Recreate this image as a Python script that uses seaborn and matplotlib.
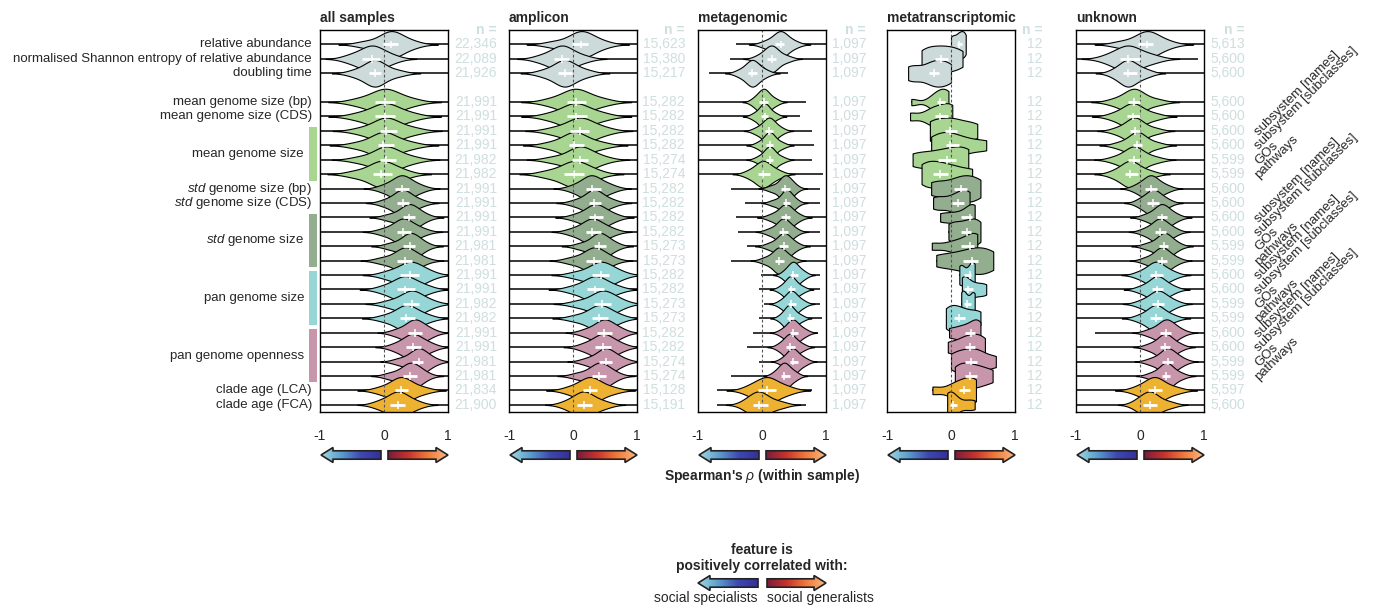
import numpy as np
import pandas as pd
import matplotlib
matplotlib.use("Agg")
import matplotlib.pyplot as plt
import seaborn as sns
from matplotlib.patches import Polygon, Rectangle
from matplotlib.colors import LinearSegmentedColormap

sns.set_style("white")
plt.rcParams["font.family"] = ["Liberation Sans", "DejaVu Sans"]
plt.rcParams["mathtext.fontset"] = "custom"
plt.rcParams["mathtext.rm"] = "Liberation Sans"
plt.rcParams["mathtext.it"] = "Liberation Sans:italic"
plt.rcParams["mathtext.bf"] = "Liberation Sans:bold"

# ---------------- data ----------------
panel_titles = ["all samples", "amplicon", "metagenomic", "metatranscriptomic", "unknown"]

row_keys = ["rel", "shannon", "doubling", "gap",
            "mean_bp", "mean_cds", "mean_names", "mean_subcl", "mean_gos", "mean_path",
            "std_bp", "std_cds", "std_names", "std_subcl", "std_gos", "std_path",
            "pan_names", "pan_subcl", "pan_gos", "pan_path",
            "open_names", "open_subcl", "open_gos", "open_path",
            "lca", "fca"]
feature_keys = [k for k in row_keys if k != "gap"]

single_labels = {
    "rel": "relative abundance",
    "shannon": "normalised Shannon entropy of relative abundance",
    "doubling": "doubling time",
    "mean_bp": "mean genome size (bp)",
    "mean_cds": "mean genome size (CDS)",
    "std_bp": r"$\it{std}$ genome size (bp)",
    "std_cds": r"$\it{std}$ genome size (CDS)",
    "lca": "clade age (LCA)",
    "fca": "clade age (FCA)",
}
group_names = ["mean genome size", r"$\it{std}$ genome size", "pan genome size", "pan genome openness"]
group_prefix = ["mean", "std", "pan", "open"]
group_colors = ["#a8d692", "#93ad8f", "#96d6d6", "#c896aa"]
sub_labels = ["subsystem [names]", "subsystem [subclasses]", "GOs", "pathways"]

color_grey = "#cddada"
color_orange = "#eeb232"

# per row: (min, p10, q1, median, q3, p90, max) of Spearman's rho
rho_all = [
    (-1, -0.30, -0.01, 0.11, 0.22, 0.43, 1), (-1, -0.53, -0.35, -0.19, -0.06, 0.12, 1),
    (-1, -0.45, -0.24, -0.14, -0.04, 0.20, 1),
    (-1, -0.40, -0.14, 0.02, 0.17, 0.42, 1), (-1, -0.40, -0.14, 0.02, 0.17, 0.42, 1),
    (-1, -0.35, -0.06, 0.03, 0.20, 0.45, 1), (-1, -0.40, -0.09, -0.01, 0.15, 0.40, 1),
    (-1, -0.37, -0.06, 0.03, 0.18, 0.42, 1), (-1, -0.45, -0.17, -0.04, 0.12, 0.30, 1),
    (-1, 0.00, 0.17, 0.28, 0.39, 0.55, 1), (-1, 0.02, 0.20, 0.29, 0.39, 0.55, 1),
    (-1, 0.08, 0.29, 0.39, 0.48, 0.62, 1), (-1, 0.00, 0.21, 0.30, 0.42, 0.58, 1),
    (-1, 0.10, 0.30, 0.41, 0.49, 0.62, 1), (-1, -0.02, 0.21, 0.33, 0.43, 0.58, 1),
    (-1, 0.05, 0.25, 0.41, 0.54, 0.70, 1), (-1, 0.00, 0.20, 0.33, 0.48, 0.65, 1),
    (-1, 0.08, 0.30, 0.43, 0.54, 0.72, 1), (-1, 0.02, 0.25, 0.35, 0.48, 0.66, 1),
    (-1, 0.20, 0.38, 0.48, 0.59, 0.72, 1), (-1, 0.18, 0.35, 0.45, 0.58, 0.72, 1),
    (-1, 0.24, 0.43, 0.54, 0.61, 0.76, 1), (-1, 0.10, 0.30, 0.41, 0.51, 0.62, 1),
    (-1, -0.05, 0.17, 0.27, 0.38, 0.60, 1), (-1, -0.08, 0.09, 0.22, 0.33, 0.50, 1),
]
rho_amplicon = [
    (-1, -0.30, -0.01, 0.13, 0.23, 0.45, 1), (-1, -0.50, -0.30, -0.17, -0.06, 0.15, 1),
    (-1, -0.45, -0.23, -0.13, -0.01, 0.20, 1),
    (-1, -0.35, -0.09, 0.04, 0.21, 0.45, 1), (-1, -0.35, -0.09, 0.04, 0.22, 0.45, 1),
    (-1, -0.30, -0.04, 0.11, 0.25, 0.48, 1), (-1, -0.35, -0.06, 0.02, 0.17, 0.42, 1),
    (-1, -0.30, -0.01, 0.11, 0.23, 0.45, 1), (-1, -0.40, -0.14, 0.02, 0.17, 0.35, 1),
    (-1, 0.02, 0.20, 0.29, 0.43, 0.58, 1), (-1, 0.05, 0.25, 0.33, 0.43, 0.60, 1),
    (-1, 0.05, 0.25, 0.35, 0.47, 0.62, 1), (-1, 0.00, 0.20, 0.30, 0.43, 0.58, 1),
    (-1, 0.12, 0.33, 0.41, 0.51, 0.64, 1), (-1, -0.02, 0.20, 0.33, 0.43, 0.58, 1),
    (-1, 0.05, 0.30, 0.43, 0.56, 0.72, 1), (-1, 0.00, 0.22, 0.35, 0.48, 0.66, 1),
    (-1, 0.08, 0.33, 0.46, 0.59, 0.74, 1), (-1, 0.05, 0.30, 0.41, 0.54, 0.70, 1),
    (-1, 0.20, 0.38, 0.49, 0.61, 0.74, 1), (-1, 0.18, 0.35, 0.47, 0.59, 0.74, 1),
    (-1, 0.22, 0.41, 0.51, 0.61, 0.76, 1), (-1, 0.08, 0.30, 0.41, 0.51, 0.64, 1),
    (-1, -0.05, 0.15, 0.27, 0.38, 0.60, 1), (-1, -0.10, 0.07, 0.17, 0.30, 0.48, 1),
]
rho_metagenomic = [
    (-0.40, 0.05, 0.20, 0.29, 0.35, 0.50, 1.0), (-0.50, -0.05, 0.08, 0.15, 0.22, 0.38, 1.0),
    (-0.83, -0.35, -0.22, -0.15, -0.08, 0.05, 0.41),
    (-1.0, -0.12, -0.04, 0.03, 0.09, 0.20, 0.69), (-1.0, -0.12, -0.01, 0.04, 0.09, 0.20, 0.59),
    (-1.0, -0.08, 0.04, 0.11, 0.17, 0.28, 0.78), (-1.0, -0.05, 0.07, 0.12, 0.17, 0.30, 0.82),
    (-1.0, -0.05, 0.07, 0.12, 0.17, 0.30, 0.78), (-1.0, -0.20, -0.06, 0.02, 0.12, 0.25, 0.95),
    (-0.49, 0.15, 0.30, 0.36, 0.43, 0.50, 0.91), (-0.27, 0.18, 0.33, 0.38, 0.43, 0.52, 0.91),
    (-0.40, 0.15, 0.29, 0.37, 0.43, 0.55, 1.0), (-0.38, 0.12, 0.27, 0.33, 0.41, 0.50, 0.91),
    (-0.23, 0.12, 0.27, 0.34, 0.41, 0.52, 1.0), (-0.48, 0.05, 0.20, 0.27, 0.34, 0.45, 1.0),
    (-0.01, 0.35, 0.43, 0.49, 0.56, 0.65, 0.91), (-0.04, 0.30, 0.40, 0.45, 0.51, 0.62, 0.91),
    (0.03, 0.30, 0.40, 0.46, 0.53, 0.63, 0.91), (-0.04, 0.30, 0.39, 0.43, 0.50, 0.60, 0.93),
    (-0.14, 0.32, 0.43, 0.48, 0.56, 0.66, 0.88), (-0.24, 0.28, 0.38, 0.44, 0.51, 0.62, 1.0),
    (-0.05, 0.33, 0.43, 0.48, 0.56, 0.66, 1.0), (-0.49, 0.20, 0.29, 0.35, 0.43, 0.52, 1.0),
    (-0.70, -0.20, -0.06, 0.08, 0.22, 0.40, 0.78), (-0.70, -0.25, -0.14, -0.04, 0.09, 0.28, 0.69),
]
rho_metatranscriptomic = [
    (0.00, 0.04, 0.10, 0.13, 0.17, 0.20, 0.23), (-0.46, -0.35, -0.25, -0.15, -0.05, 0.05, 0.18),
    (-0.67, -0.55, -0.35, -0.27, -0.19, -0.08, 0.00),
    (-0.62, -0.30, -0.22, -0.17, -0.10, -0.06, -0.04), (-0.64, -0.35, -0.25, -0.17, -0.05, 0.00, 0.02),
    (-0.33, -0.25, -0.10, -0.01, 0.10, 0.25, 0.41), (-0.31, -0.20, -0.08, -0.01, 0.12, 0.30, 0.55),
    (-0.60, -0.40, -0.20, -0.06, 0.08, 0.20, 0.27), (-0.46, -0.38, -0.28, -0.17, -0.05, 0.10, 0.33),
    (-0.31, -0.15, 0.05, 0.15, 0.25, 0.35, 0.46), (-0.28, -0.15, 0.02, 0.11, 0.20, 0.25, 0.29),
    (-0.17, 0.00, 0.15, 0.29, 0.33, 0.36, 0.37), (-0.04, 0.05, 0.15, 0.25, 0.32, 0.40, 0.46),
    (-0.30, 0.00, 0.15, 0.30, 0.36, 0.39, 0.41), (-0.23, 0.00, 0.18, 0.33, 0.42, 0.55, 0.66),
    (0.13, 0.15, 0.20, 0.29, 0.32, 0.35, 0.37), (0.17, 0.19, 0.20, 0.27, 0.35, 0.45, 0.55),
    (0.16, 0.18, 0.20, 0.25, 0.32, 0.35, 0.37), (-0.08, -0.02, 0.05, 0.13, 0.22, 0.35, 0.46),
    (-0.03, 0.12, 0.22, 0.32, 0.38, 0.42, 0.46), (-0.05, 0.12, 0.22, 0.30, 0.38, 0.45, 0.53),
    (0.00, 0.12, 0.22, 0.32, 0.40, 0.50, 0.70), (0.06, 0.14, 0.22, 0.30, 0.40, 0.50, 0.65),
    (-0.29, 0.00, 0.12, 0.20, 0.30, 0.35, 0.39), (-0.06, -0.04, -0.02, 0.03, 0.10, 0.25, 0.37),
]
rho_unknown = [
    (-1, -0.30, -0.03, 0.11, 0.21, 0.42, 1), (-1, -0.50, -0.31, -0.18, 0.00, 0.20, 0.91),
    (-1, -0.40, -0.26, -0.18, -0.05, 0.10, 1),
    (-1, -0.40, -0.18, -0.09, 0.00, 0.25, 1), (-1, -0.40, -0.21, -0.11, 0.00, 0.22, 1),
    (-1, -0.35, -0.16, -0.08, 0.00, 0.22, 1), (-1, -0.32, -0.11, -0.04, 0.03, 0.25, 1),
    (-1, -0.38, -0.18, -0.09, 0.00, 0.22, 1), (-1, -0.40, -0.23, -0.15, -0.03, 0.15, 1),
    (-1, -0.05, 0.08, 0.17, 0.26, 0.40, 1), (-1, 0.00, 0.11, 0.21, 0.30, 0.42, 1),
    (-1, 0.10, 0.26, 0.34, 0.42, 0.55, 1), (-1, 0.08, 0.23, 0.31, 0.41, 0.52, 1),
    (-1, 0.12, 0.29, 0.38, 0.44, 0.57, 1), (-1, 0.10, 0.26, 0.34, 0.42, 0.55, 1),
    (-1, 0.00, 0.16, 0.25, 0.36, 0.50, 1), (-1, 0.02, 0.18, 0.27, 0.36, 0.50, 1),
    (-1, 0.02, 0.18, 0.28, 0.38, 0.52, 1), (-1, 0.00, 0.16, 0.25, 0.34, 0.50, 1),
    (-0.70, 0.15, 0.31, 0.41, 0.49, 0.62, 1), (-1, 0.15, 0.31, 0.39, 0.47, 0.60, 1),
    (-1, 0.18, 0.35, 0.43, 0.52, 0.64, 1), (-1, 0.18, 0.34, 0.41, 0.47, 0.62, 1),
    (-1, -0.05, 0.13, 0.23, 0.34, 0.55, 1), (-1, -0.05, 0.05, 0.16, 0.26, 0.45, 1),
]

n_all = [22346, 22089, 21926, 21991, 21991, 21991, 21991, 21982, 21982, 21991, 21991, 21991,
         21991, 21981, 21981, 21991, 21991, 21982, 21982, 21991, 21991, 21981, 21981, 21834, 21900]
n_amplicon = [15623, 15380, 15217, 15282, 15282, 15282, 15282, 15274, 15274, 15282, 15282, 15282,
              15282, 15273, 15273, 15282, 15282, 15273, 15273, 15282, 15282, 15274, 15274, 15128, 15191]
n_metagenomic = [1097] * 25
n_metatranscriptomic = [12] * 25
n_unknown = [5613, 5600, 5600, 5600, 5600, 5600, 5600, 5599, 5599, 5600, 5600, 5600, 5600, 5599,
             5599, 5600, 5600, 5599, 5599, 5600, 5600, 5599, 5599, 5597, 5600]

panel_tables = [rho_all, rho_amplicon, rho_metagenomic, rho_metatranscriptomic, rho_unknown]
panel_ns = [n_all, n_amplicon, n_metagenomic, n_metatranscriptomic, n_unknown]

# ---------------- styling ----------------
feature_colors = {}
for k in feature_keys:
    if k in ("rel", "shannon", "doubling"):
        feature_colors[k] = color_grey
    elif k in ("lca", "fca"):
        feature_colors[k] = color_orange
    else:
        for gp, gc in zip(group_prefix, group_colors):
            if k.startswith(gp):
                feature_colors[k] = gc

n_color = "#cfdede"
W, H = 1375, 608
fig = plt.figure(figsize=(W / 100, H / 100), dpi=100)
panel_left_px = [320, 509, 698, 887, 1076]
panel_w_px, top_px, bot_px = 128, 30, 412
n_offsets_px = [49, 48, 40, 28, 41]

row_pos = {k: i for i, k in enumerate(row_keys)}
axes = []
for p, (title, table, ns) in enumerate(zip(panel_titles, panel_tables, panel_ns)):
    ax = fig.add_axes([panel_left_px[p] / W, 1 - bot_px / H, panel_w_px / W, (bot_px - top_px) / H])
    axes.append(ax)
    small = (p == 3)
    recs = []
    for key, vals in zip(feature_keys, table):
        if small:
            body = vals
        else:
            body = (vals[1], vals[2], vals[3], vals[3], vals[3], vals[4], vals[5])
        recs += [(key, v) for v in body]
    df = pd.DataFrame(recs, columns=["feature", "rho"])
    sns.violinplot(data=df, x="rho", y="feature", hue="feature", order=row_keys,
                   hue_order=feature_keys, palette=feature_colors, orient="y",
                   cut=0 if small else 2.5, bw_adjust=0.75 if small else 1.1,
                   density_norm="width", width=1.85, inner=None, linewidth=0.8,
                   linecolor="black", saturation=1, legend=False, gridsize=200, ax=ax)
    ys = np.array([row_pos[k] for k in feature_keys], dtype=float)
    arr = np.array(table, dtype=float)
    ax.hlines(ys, arr[:, 0], arr[:, 6], color="black", lw=1.1, zorder=0.9)
    ax.axvline(0, color="#555555", lw=0.8, ls=(0, (2.5, 2)), zorder=2.5)
    ax.hlines(ys, arr[:, 2], arr[:, 4], color="white", lw=2.0, zorder=5)
    ax.vlines(arr[:, 3], ys - 0.27, ys + 0.27, color="white", lw=1.1, zorder=5)

    ax.set_xlim(-1, 1)
    ax.set_ylim(25.5, -1.0)
    ax.set_yticks([])
    ax.set_xticks([-1, 0, 1])
    ax.set_xticklabels(["-1", "0", "1"], fontsize=10)
    ax.tick_params(axis="x", length=4, width=1, color="black", direction="out", pad=8)
    ax.set_xlabel("")
    ax.set_ylabel("")
    for s in ax.spines.values():
        s.set_visible(True)
        s.set_color("black")
        s.set_linewidth(1.0)
    ax.text(0, 1 + 8 / 382, title, transform=ax.transAxes, fontsize=10, fontweight="bold",
            ha="left", va="baseline")
    # n column
    xt = 1 + n_offsets_px[p] / panel_w_px
    tr = ax.get_yaxis_transform()
    ax.text(xt, -0.97, "n =", transform=tr, ha="right", va="center", fontsize=10,
            color=n_color, fontweight="bold", clip_on=False)
    for y, n in zip(ys, ns):
        ax.text(xt, y, f"{n:,}", transform=tr, ha="right", va="center", fontsize=10,
                color=n_color, clip_on=False)

# left labels
ax0 = axes[0]
tr0 = ax0.get_yaxis_transform()
for k, lab in single_labels.items():
    ax0.text(-8 / 128, row_pos[k], lab, transform=tr0, ha="right", va="center", fontsize=9.5,
             clip_on=False)
for gname, gp, gc in zip(group_names, group_prefix, group_colors):
    rows = [row_pos[gp + "_" + s] for s in ("names", "subcl", "gos", "path")]
    y0, y1 = min(rows) - 0.27, max(rows) + 0.45
    ax0.add_patch(Rectangle((-11 / 128, y0), 8 / 128, y1 - y0, transform=tr0, color=gc,
                            clip_on=False, lw=0))
    ax0.text(-16 / 128, (y0 + y1) / 2, gname, transform=tr0, ha="right", va="center",
             fontsize=9.5, clip_on=False)

# right rotated sub labels
ax4 = axes[4]
tr4 = ax4.get_yaxis_transform()
for gp in group_prefix:
    for suffix, lab in zip(("names", "subcl", "gos", "path"), sub_labels):
        ax4.text(181 / 128, row_pos[gp + "_" + suffix] + 0.2, lab, transform=tr4,
                 rotation=45, rotation_mode="anchor", ha="left", va="center", fontsize=9.5,
                 clip_on=False)

# ---------------- arrows ----------------
ov = fig.add_axes([0, 0, 1, 1])
ov.set_xlim(0, W)
ov.set_ylim(H, 0)
ov.axis("off")
ov.patch.set_alpha(0)

left_cmap = LinearSegmentedColormap.from_list("l", ["#a2d8de", "#5b9fd0", "#3e48b0", "#34309a"])
right_cmap = LinearSegmentedColormap.from_list("r", ["#7a1c3c", "#c8322e", "#f07a3a", "#f9b884"])


def grad_arrow(x_tip, x_end, yc, cmap):
    hl, hh, sh = 12, 7.5, 4.2
    d = 1 if x_end > x_tip else -1
    pts = [(x_tip, yc), (x_tip + d * hl, yc - hh), (x_tip + d * hl, yc - sh), (x_end, yc - sh),
           (x_end, yc + sh), (x_tip + d * hl, yc + sh), (x_tip + d * hl, yc + hh)]
    poly = Polygon(pts, closed=True, facecolor="none", edgecolor="#222222", lw=1.2, zorder=3)
    ov.add_patch(poly)
    xs = sorted([x_tip, x_end])
    g = np.linspace(0, 1, 256).reshape(1, -1)
    im = ov.imshow(g, extent=(xs[0], xs[1], yc + hh, yc - hh), cmap=cmap, aspect="auto",
                   zorder=2, interpolation="bilinear")
    im.set_clip_path(poly)


arrow_y = 455
for pl in panel_left_px:
    grad_arrow(pl + 1, pl + 61, arrow_y, left_cmap)
    grad_arrow(pl + 128, pl + 68, arrow_y, right_cmap)

grad_arrow(698, 758, 583, left_cmap)
grad_arrow(826, 767, 583, right_cmap)
ov.set_xlim(0, W)
ov.set_ylim(H, 0)

ov.text(762, 476, r"Spearman's $\rho$ (within sample)", ha="center", va="center", fontsize=10,
        fontweight="bold")
ov.text(762, 558, "feature is\npositively correlated with:", ha="center", va="center",
        fontsize=10, fontweight="bold", linespacing=1.15)
ov.text(758, 598, "social specialists", ha="right", va="center", fontsize=10)
ov.text(767, 598, "social generalists", ha="left", va="center", fontsize=10)

fig.savefig("out.png", dpi=100)
